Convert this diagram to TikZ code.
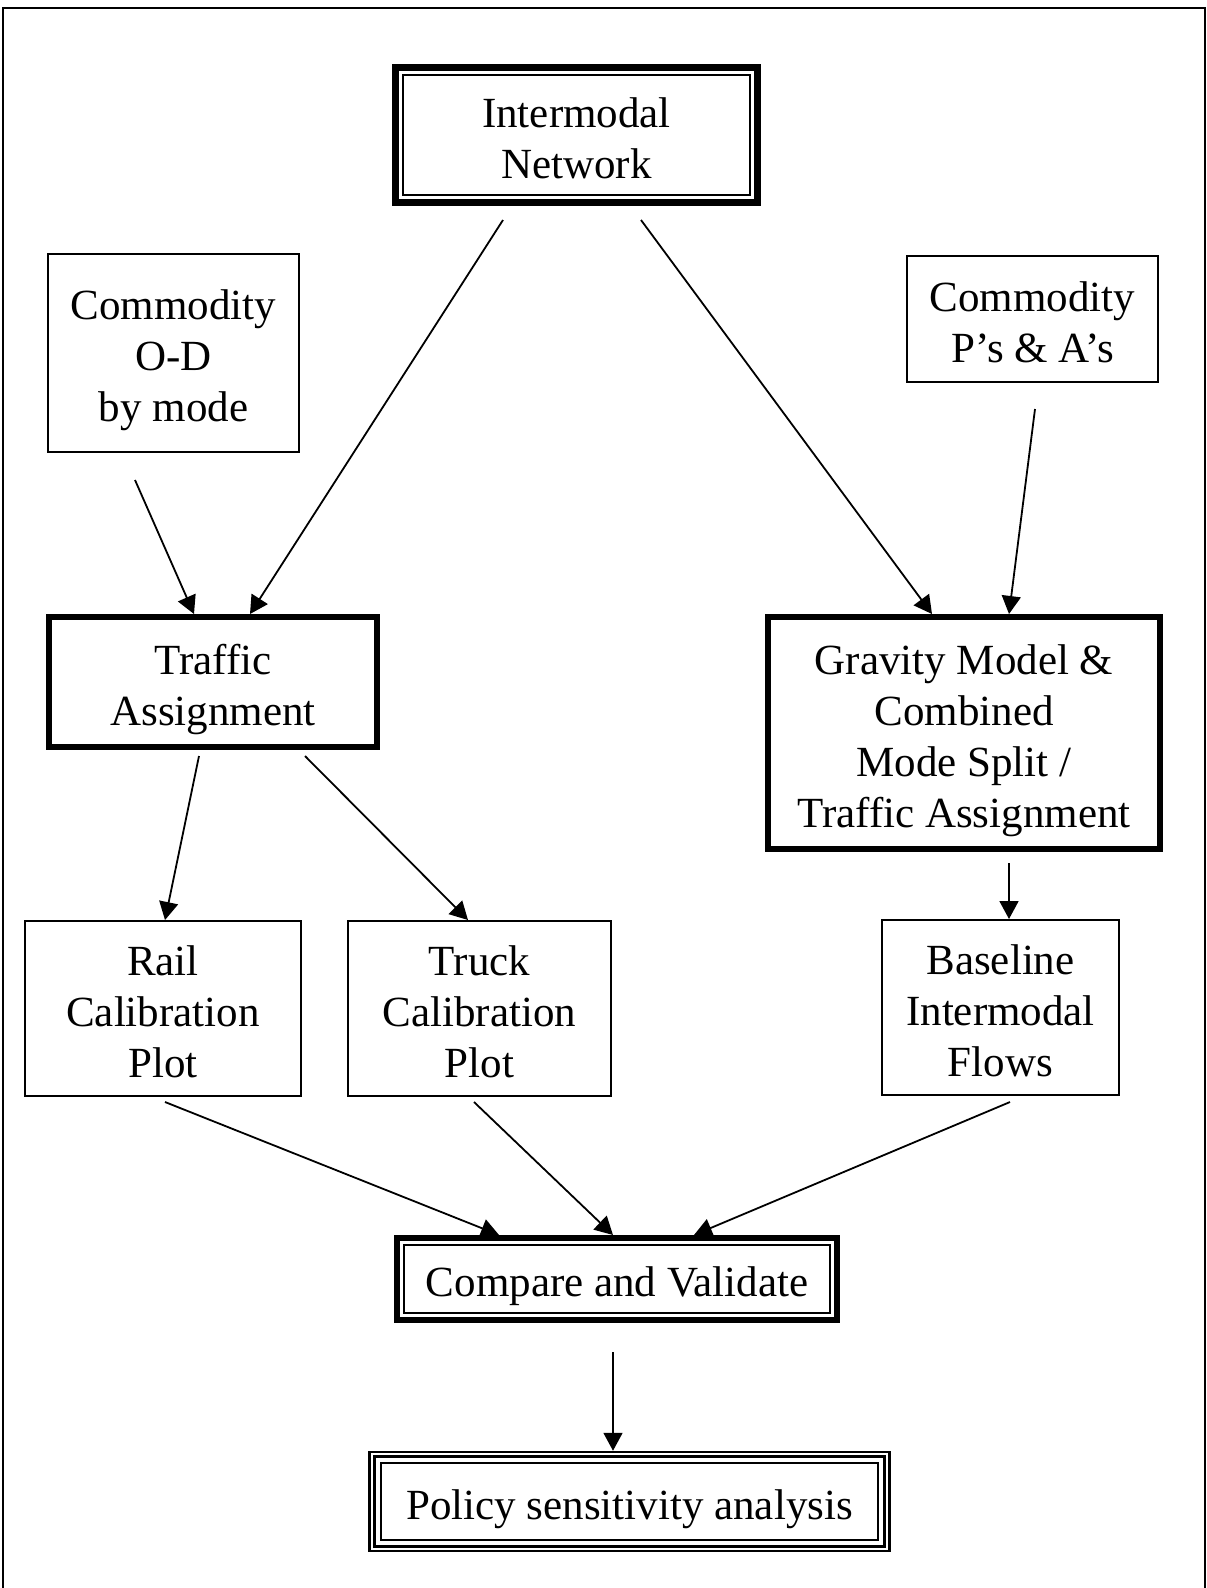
\documentclass[tikz,border=0pt]{standalone}
\usepackage{fontspec}
\setmainfont{Liberation Serif}
\usetikzlibrary{arrows.meta,calc}
\newcommand\topstrut{\rule{0pt}{35pt}}
\tikzset{
  box/.style={draw, line width=2pt, align=center, inner sep=0pt, text depth=0pt,
    font=\fontsize{43}{51}\selectfont},
  thickbox/.style={box, line width=6pt},
  arr/.style={line width=1.8pt, -{Triangle[length=18pt,width=19pt]}}
}
\begin{document}
\begin{tikzpicture}[x=1pt,y=-1pt]
\useasboundingbox (0,0) rectangle (1207,1588);
% outer frame
\draw[line width=1.5pt] (3,1588) -- (3,8) -- (1205,8) -- (1205,1588);

% nodes
\node[thickbox, line width=7pt, minimum width=362pt, minimum height=135pt] (net) at (576.5,135) {\topstrut Intermodal\\Network};
\draw[line width=1.5pt] ($(net.south west)+(11,-11)$) rectangle ($(net.north east)+(-11,11)$);

\node[box, minimum width=251pt, minimum height=198pt] (od) at (173.5,353) {\topstrut Commodity\\O-D\\by mode};
\node[box, minimum width=251pt, minimum height=126pt] (pa) at (1032.5,319) {\topstrut Commodity\\P’s \& A’s};

\node[thickbox, minimum width=328pt, minimum height=130pt] (ta) at (213,682) {\topstrut Traffic\\Assignment};
\node[thickbox, minimum width=392pt, minimum height=232pt] (grav) at (964,733) {\topstrut Gravity Model \&\\Combined\\Mode Split /\\Traffic Assignment};

\node[box, minimum width=276pt, minimum height=175pt] (rail) at (163,1008.5) {\topstrut Rail\\Calibration\\Plot};
\node[box, minimum width=263pt, minimum height=175pt] (truck) at (479.5,1008.5) {\topstrut Truck\\Calibration\\Plot};
\node[box, minimum width=237pt, minimum height=175pt] (base) at (1000.5,1007.5) {\topstrut Baseline\\Intermodal\\Flows};

\node[thickbox, minimum width=440pt, minimum height=82pt] (cmp) at (617,1279) {\topstrut Compare and Validate};
\draw[line width=2pt] ($(cmp.south west)+(10,-10)$) rectangle ($(cmp.north east)+(-10,10)$);

\node[box, line width=2.5pt, minimum width=520pt, minimum height=99pt] (pol) at (629.5,1501.5) {\topstrut Policy sensitivity analysis};
\draw[line width=3.3pt] ($(pol.south west)+(6,-6)$) rectangle ($(pol.north east)+(-6,6)$);
\draw[line width=2pt] ($(pol.south west)+(12.5,-12.5)$) rectangle ($(pol.north east)+(-12.5,12.5)$);

% connectors
\draw[arr] ($(net.south)+(-73.5,14)$) -- ($(ta.north)+(37,0)$);
\draw[arr] ($(od.south)+(-38.5,27)$) -- ($(ta.north)+(-19,0)$);
\draw[arr] ($(net.south)+(64.5,14)$) -- ($(grav.north)+(-32,0)$);
\draw[arr] ($(pa.south)+(2.5,26)$) -- ($(grav.north)+(45,0)$);
\draw[arr] ($(ta.south)+(-14,6)$) -- ($(rail.north)+(2,0)$);
\draw[arr] ($(ta.south)+(92,6)$) -- ($(truck.north)+(-11.5,0)$);
\draw[arr] ($(grav.south)+(45,11)$) -- ($(base.north)+(8.5,0)$);
\draw[arr] ($(rail.south)+(2,5)$) -- ($(cmp.north)+(-118,0)$);
\draw[arr] ($(truck.south)+(-5.5,5)$) -- ($(cmp.north)+(-4,0)$);
\draw[arr] ($(base.south)+(9.5,6)$) -- ($(cmp.north)+(77,0)$);
\draw[arr] ($(cmp.south)+(-4,29)$) -- ($(pol.north)+(-16.5,0)$);
\end{tikzpicture}
\end{document}
